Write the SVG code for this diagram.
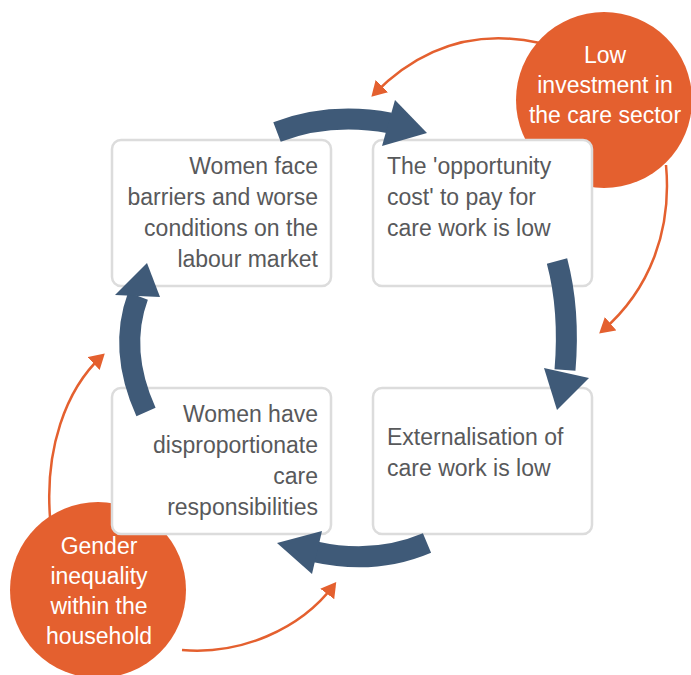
<svg xmlns="http://www.w3.org/2000/svg" width="691" height="675" viewBox="0 0 691 675">
<defs>
<style>
.box{fill:#fff;stroke:#dcdcdc;stroke-width:2.5}
.bt{font-family:"Liberation Sans",Arial,sans-serif;font-size:23px;fill:#58595b}
.ct{font-family:"Liberation Sans",Arial,sans-serif;font-size:23px;fill:#fff;text-anchor:middle}
.circ{fill:#e4602f}
.shaft{fill:none;stroke:#3f5a78;stroke-width:21}
.head{fill:#3f5a78}
.oar{fill:none;stroke:#e4602f;stroke-width:2.5;marker-end:url(#oh)}
</style>
<marker id="oh" markerWidth="7" markerHeight="7" refX="4.5" refY="3.5" orient="auto" markerUnits="strokeWidth">
<path d="M0,0 L6,3.5 L0,7 Z" fill="#e4602f"/>
</marker>
</defs>
<g id="circle-investment">
<circle class="circ" cx="604" cy="100" r="88"/>
<text class="ct"><tspan x="605" y="63">Low</tspan><tspan x="605" y="93">investment in</tspan><tspan x="605" y="123">the care sector</tspan></text>
</g>
<g id="circle-gender">
<circle class="circ" cx="98" cy="590" r="88"/>
<text class="ct"><tspan x="99" y="554">Gender</tspan><tspan x="99" y="584">inequality</tspan><tspan x="99" y="614">within the</tspan><tspan x="99" y="644">household</tspan></text>
</g>
<g id="box-labour">
<rect class="box" x="112" y="140" width="219" height="146" rx="9"/>
<text class="bt" text-anchor="end"><tspan x="318" y="174">Women face</tspan><tspan x="318" y="205">barriers and worse</tspan><tspan x="318" y="236">conditions on the</tspan><tspan x="318" y="267">labour market</tspan></text>
</g>
<g id="box-opportunity">
<rect class="box" x="373" y="140" width="219" height="146" rx="9"/>
<text class="bt"><tspan x="387" y="174">The 'opportunity</tspan><tspan x="387" y="205">cost' to pay for</tspan><tspan x="387" y="236">care work is low</tspan></text>
</g>
<g id="box-care">
<rect class="box" x="112" y="388" width="219" height="146" rx="9"/>
<text class="bt" text-anchor="end"><tspan x="318" y="422">Women have</tspan><tspan x="318" y="453">disproportionate</tspan><tspan x="318" y="484">care</tspan><tspan x="318" y="515">responsibilities</tspan></text>
</g>
<g id="box-externalisation">
<rect class="box" x="373" y="388" width="219" height="146" rx="9"/>
<text class="bt"><tspan x="387" y="445">Externalisation of</tspan><tspan x="387" y="476">care work is low</tspan></text>
</g>
<g id="connectors">
<path class="shaft" d="M277 132 Q330 112 390 123"/>
<polygon class="head" points="395,100 427,133 382,146"/>
<path class="shaft" d="M557 261 Q570 310 565 370"/>
<polygon class="head" points="544,368 589,378 557,410"/>
<path class="shaft" d="M427 543 Q375 565 316 552"/>
<polygon class="head" points="322,531 277,543 312,574"/>
<path class="shaft" d="M146 412 Q118 350 138 296"/>
<polygon class="head" points="115,295 147,263 160,297"/>
<path class="oar" d="M540 43 Q445 22 374 94"/>
<path class="oar" d="M666 165 C672 230 650 290 602 331"/>
<path class="oar" d="M50 517 C45 450 65 390 102 356"/>
<path class="oar" d="M182 650 C240 655 300 630 334 585"/>
</g>
</svg>
